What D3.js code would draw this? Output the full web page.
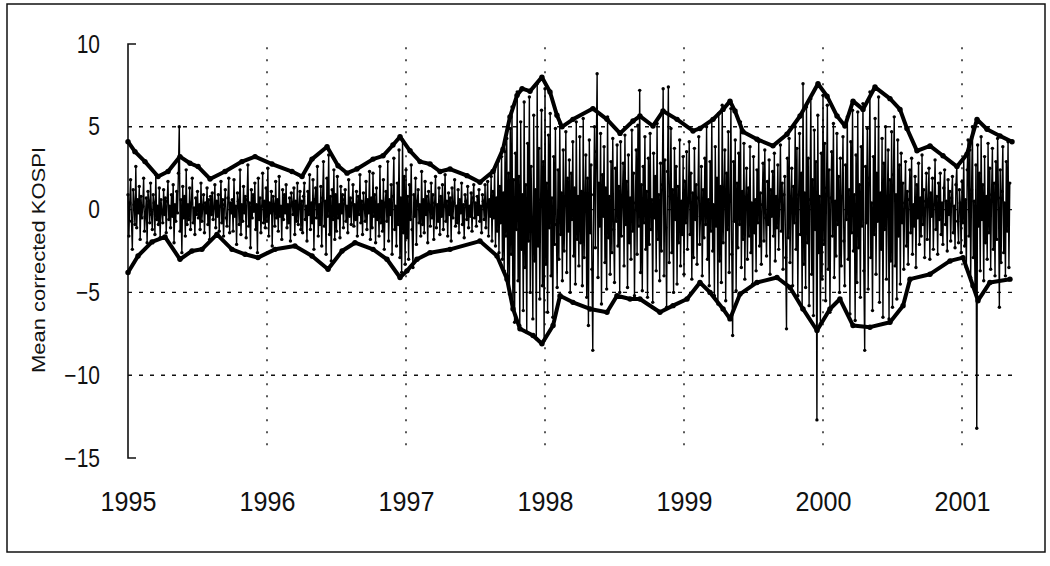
<!DOCTYPE html>
<html>
<head>
<meta charset="utf-8">
<script src="https://cdn.jsdelivr.net/npm/d3@7"></script>
<style>
  html, body { margin: 0; padding: 0; background: #fff; }
  svg { display: block; }
</style>
</head>
<body>
<svg id="chart" width="1050" height="566"></svg>
<script>
// tick labels
var yearTicks = [1995, 1996, 1997, 1998, 1999, 2000, 2001];
var yTicks = [10, 5, 0, -5, -10, -15];
var gridValues = [5, 0, -5, -10];

// mean corrected KOSPI returns (160 points a year from 1995.0)
var startYear = 1995;
var perYear = 160;
var ret1995 = [
    0.9, -1.6, 0.4, 1.8, -0.7, -2.4, 1.2, 0.3, -0.9, 2.6,
    -1.1, 0.6, -0.2, 1.4, -1.8, 0.8, -0.5, 0.2, 1.9, -1.3,
    -0.4, 0.7, -2.0, 1.1, 0.5, -0.8, 1.6, -0.3, -1.2, 0.9,
    0.4, -1.5, 2.1, -0.6, 0.2, -0.9, 1.3, -1.7, 0.6, -0.1,
    -0.8, 1.2, -0.3, 0.7, -1.4, 0.5, 1.7, -0.6, 0.2, -1.1,
    0.9, -0.4, 1.5, -2.0, 0.3, -0.7, 1.1, -0.2, 2.2, 5.0,
    -1.3, 0.6, -2.6, 1.4, -0.5, 0.8, -1.6, 2.4, -0.9, 0.3,
    -0.6, 1.3, -1.2, 0.4, 1.9, -0.8, 0.1, -1.5, 0.7, -0.3,
    1.1, -0.5, 0.3, -1.2, 1.6, -0.7, 0.2, 0.9, -1.4, 0.4,
    -0.2, 1.3, -0.9, 0.6, -1.8, 0.8, -0.3, 1.0, -0.6, 0.1,
    1.5, -1.1, 0.5, -0.4, 0.9, -1.3, 0.2, 1.7, -0.8, 0.6,
    -1.6, 0.3, 1.2, -0.5, -1.0, 0.7, 1.9, -1.4, 0.4, -0.2,
    0.6, -1.3, 1.8, -0.4, 0.2, -2.1, 1.0, 0.5, -0.9, 2.4,
    -1.5, 0.3, -0.7, 1.4, -0.2, 0.8, -1.7, 0.6, 2.7, -1.0,
    0.4, -2.3, 1.2, -0.5, 0.9, -0.1, 1.6, -1.2, 0.3, -2.6,
    1.9, -0.6, 0.7, -1.4, 0.2, 2.2, -0.8, 0.5, -1.1, 1.3
];
var ret1996 = [
    -0.7, 2.5, -1.6, 0.4, -0.2, 1.1, -2.2, 0.8, 0.3, -1.0,
    1.7, -0.5, 0.6, -1.3, 2.0, -0.4, 0.2, -1.8, 1.2, -0.6,
    0.9, -0.2, 1.5, -1.1, 0.3, -0.8, 0.7, -1.9, 1.0, 0.4,
    -0.3, 1.3, -1.5, 0.5, -0.7, 1.6, -0.9, 0.2, 1.1, -1.2,
    0.5, -1.4, 0.8, 1.6, -0.6, 0.2, -1.9, 1.1, -0.3, 2.1,
    -1.2, 0.4, -0.8, 1.8, -2.4, 0.6, 1.3, -0.5, 2.6, -1.6,
    0.3, -0.9, 1.4, -2.2, 0.7, 2.9, -1.0, 0.5, -2.7, 1.9,
    -0.4, 3.3, -1.5, 0.8, -3.1, 1.2, -0.6, 2.4, -1.8, 0.9,
    -1.3, 2.0, -0.5, 0.3, -1.7, 1.4, -0.2, 0.9, -1.1, 0.6,
    1.2, -0.7, 0.2, -1.4, 1.8, -0.4, 0.7, -0.9, 0.4, 1.5,
    -1.0, 0.3, -0.6, 1.1, -1.6, 0.8, -0.3, 2.1, -0.8, 0.5,
    -1.5, 1.0, 0.2, -0.7, 1.7, -1.2, 0.6, -0.2, 2.3, -1.8,
    0.7, -1.1, 2.2, -0.4, 0.9, -2.0, 1.3, -0.6, 0.3, -1.6,
    2.6, -0.8, 0.5, -1.3, 1.8, -2.4, 0.4, 1.1, -0.7, 2.9,
    -1.9, 0.6, -0.3, 1.5, -2.7, 0.8, 3.1, -1.2, 0.2, -2.2,
    1.6, -0.9, 3.6, -2.9, 0.7, -3.8, 4.2, -1.4, 2.0, -3.3
];
var ret1997 = [
    2.4, -1.7, 0.8, -3.0, 1.5, -0.6, 2.7, -1.2, -3.5, 0.9,
    -0.4, 1.9, -2.1, 0.5, 1.2, -0.8, 0.3, -1.6, 2.3, -0.9,
    0.6, -1.4, 1.7, -0.3, 0.8, -2.0, 1.1, 0.2, -1.0, 1.6,
    -0.5, 0.9, -1.8, 0.4, 2.0, -1.1, 0.3, -0.7, 1.3, -1.5,
    0.8, -0.4, 1.5, -1.2, 0.2, 2.1, -0.7, 0.5, -1.6, 1.0,
    -0.3, 0.7, -1.9, 1.3, -0.5, 0.4, 1.8, -1.0, 0.2, -0.8,
    1.2, -1.4, 0.6, -0.2, 1.6, -0.9, 0.3, -1.7, 0.9, 0.5,
    -0.6, 1.4, -1.1, 0.2, -0.4, 1.0, -1.3, 0.7, 1.5, -0.5,
    0.4, -1.0, 0.8, -0.3, 1.2, -0.7, 0.2, -1.4, 0.9, 0.5,
    -0.6, 1.5, -1.1, 0.3, 1.7, -1.6, 0.6, -0.4, 2.0, -1.9,
    1.1, -0.5, 2.4, -2.2, 0.7, -1.3, 2.9, -2.6, 1.4, -0.8,
    3.2, -3.0, 1.0, -3.7, 3.5, -1.6, 4.3, -4.0, 2.2, -5.1,
    4.9, -2.7, 6.2, -5.6, 1.8, -6.8, 3.4, -1.2, 7.1, -4.3,
    2.0, -7.0, 5.3, -2.4, 0.9, -6.1, 6.5, -3.5, 1.5, -7.4,
    4.0, -1.9, 6.8, -5.0, 2.6, -0.8, -6.6, 5.7, -3.1, 1.2,
    -7.8, 7.6, -2.2, 3.7, -5.4, 0.6, 6.0, -4.6, 2.9, -7.9
];
var ret1998 = [
    7.3, -3.3, 1.6, -6.2, 4.5, -1.1, 5.8, -4.0, 0.7, -6.5,
    3.2, -2.1, 4.9, -0.9, -4.7, 2.4, -3.0, 5.2, -1.5, 1.0,
    -4.3, 3.6, -2.5, 0.5, 4.7, -3.8, 1.9, -1.3, 3.0, -5.0,
    2.2, -0.6, 4.1, -2.8, 1.3, -4.5, 5.3, -1.8, 0.8, -3.4,
    4.4, -2.0, 1.1, -4.6, 5.5, -2.9, 0.6, 3.3, -5.3, 1.9,
    -7.0, 4.2, -1.4, 2.7, -3.6, -8.5, 0.9, 5.0, -2.3, 3.5,
    8.2, -4.1, 1.6, -1.0, 4.6, -5.7, 2.1, -0.4, 3.8, -3.2,
    1.3, -4.8, 5.6, -1.7, 0.8, -3.9, 2.9, -2.6, 4.3, -1.2,
    -4.4, 2.5, -0.7, 3.9, -2.2, 1.4, -5.0, 4.1, -1.6, 0.5,
    2.8, -3.4, 4.5, -0.9, 1.7, -4.7, 3.3, -2.0, 0.7, -3.0,
    4.8, -1.3, 2.2, -5.2, 0.4, 3.6, -2.7, 5.1, -1.0, 7.2,
    -3.8, 1.5, -4.9, 2.6, -0.8, 4.4, -2.4, 1.1, -5.3, 3.1,
    -2.1, 4.6, -1.2, 0.6, -5.6, 3.4, -0.5, 2.0, -3.7, 5.2,
    -1.8, 0.9, -4.3, 2.8, -2.5, 1.5, 7.3, -4.0, 3.0, -1.1,
    -5.9, 2.3, 7.4, -3.2, 0.8, 4.9, -2.6, 1.2, -5.0, 3.7,
    -0.6, 2.6, -4.5, 1.4, -2.0, 4.2, -3.4, 0.5, -1.5, 3.2
];
var ret1999 = [
    -3.9, 1.7, -0.8, 3.5, -2.4, 0.4, 4.1, -1.5, 2.2, -4.2,
    1.0, -2.9, 3.7, -0.6, 1.5, -3.3, 0.7, 4.4, -2.1, -0.4,
    2.6, -4.0, 1.2, -1.7, 3.1, -0.9, 5.0, -3.0, 0.6, -4.6,
    2.9, -1.3, 5.4, -2.5, 0.3, -5.2, 3.8, -1.0, 1.9, -5.7,
    5.8, -3.1, 1.4, -4.4, 6.3, -2.0, 0.8, 3.6, -5.5, 2.2,
    -1.2, 4.7, -3.8, 0.5, 6.1, -2.7, -7.6, 2.9, -0.7, 4.2,
    -4.9, 1.6, -2.3, 3.4, -0.9, 5.3, -3.5, 1.1, -1.8, 4.0,
    -4.2, 0.7, 2.5, -3.0, 1.3, -1.6, 3.8, -2.6, 0.4, -4.5,
    3.2, -1.4, 0.6, -3.7, 2.4, -0.8, 4.1, -2.2, 1.0, -3.3,
    0.3, 2.8, -1.9, 3.6, -0.5, -2.8, 1.7, -0.9, 3.0, -3.9,
    1.2, -0.4, 2.3, -1.6, 3.4, -3.1, 0.8, -1.1, 2.7, -2.4,
    0.5, 3.9, -1.3, 1.6, -3.6, 0.9, 2.0, -2.9, -7.2, 3.1,
    -1.7, 4.3, -3.2, 0.7, 2.5, -4.6, 1.4, -0.8, 5.0, -2.4,
    3.7, -5.2, 0.9, 4.6, -1.5, 2.2, -6.0, 7.6, -3.3, 1.0,
    -4.7, 6.2, -2.0, 3.1, -5.8, 0.6, 6.7, -3.9, 1.8, -6.4,
    4.8, -1.2, 2.9, -12.7, 5.7, -2.6, 0.8, -6.9, 3.4, -4.2
];
var ret2000 = [
    6.9, -2.1, 4.0, -5.5, 1.3, 6.3, -3.6, 2.4, -6.2, 0.7,
    3.5, -1.6, 5.2, -4.1, 0.5, -2.8, 4.6, -0.9, 2.0, -5.0,
    3.1, -3.4, 0.8, 4.4, -1.9, -4.6, 2.7, -0.6, 5.6, -3.0,
    1.2, -6.3, 4.1, -1.4, 6.0, -2.5, 0.9, -6.7, 3.3, -4.4,
    5.9, -2.3, 1.5, -5.3, 3.8, -1.0, 6.4, -3.7, -8.5, 2.6,
    -0.8, 4.9, -4.8, 1.9, 7.1, -2.9, 0.4, -6.1, 3.2, -1.5,
    5.5, -3.9, 2.2, -0.7, 6.8, -5.6, 1.0, -2.4, 4.3, -6.5,
    2.8, -1.2, 5.0, -4.2, 0.6, 3.6, -6.6, 1.8, -3.1, 4.7,
    -5.9, 2.1, 5.6, -3.4, 0.9, -5.4, 4.2, -1.6, 2.7, -4.5,
    3.4, -0.8, 1.6, -3.6, 0.4, 2.9, -2.2, 1.1, -3.3, 0.6,
    2.4, -1.4, 3.1, -2.7, 0.3, -1.0, 2.0, -3.5, 1.5, -0.5,
    2.8, -2.1, 0.7, -1.6, 3.3, -0.9, 1.2, -2.9, 0.5, 2.2,
    -1.8, 0.6, 2.5, -3.0, 1.0, -0.4, 1.9, -2.4, 0.3, 3.0,
    -1.2, 0.8, -2.7, 1.6, -0.6, 2.2, -1.5, 0.4, -2.1, 1.3,
    2.4, -0.9, 0.5, -2.5, 1.8, -0.3, 1.1, -1.9, 0.7, 2.0,
    -1.4, 0.2, -2.3, 1.5, 2.6, -0.7, -2.0, 1.2, 0.4, -2.6
];
var ret2001 = [
    1.7, -0.8, 3.1, -2.2, 0.6, -3.5, 2.4, 4.2, -1.6, 3.6,
    -4.1, 1.2, 5.0, -2.9, 0.5, -4.8, 2.7, -13.2, 3.9, -1.0,
    2.2, -3.7, 4.4, -0.6, 1.5, -4.3, 3.2, -2.0, 0.8, -3.0,
    4.0, -1.4, 2.5, -3.6, 0.9, 3.7, -2.4, 1.6, -4.0, 2.9,
    -1.8, 4.3, 0.7, -5.9, 2.4, -3.2, 1.1, 3.8, -2.6, 0.4,
    -4.0, 2.9, -1.3, 4.1, -3.5, 1.6
];
var returns = [].concat(ret1995, ret1996, ret1997, ret1998, ret1999, ret2000, ret2001);

// upper and lower volatility bands: [year, value]
var upperBand = [
    [1995.000, 4.1], [1995.050, 3.5], [1995.122, 2.9], [1995.216, 2.0], [1995.288, 2.3], [1995.374, 3.2],
    [1995.446, 2.8], [1995.504, 2.6], [1995.590, 1.85], [1995.698, 2.3], [1995.820, 2.9], [1995.914, 3.2],
    [1996.036, 2.75], [1996.180, 2.3], [1996.252, 2.0], [1996.324, 3.05], [1996.432, 3.8], [1996.511, 2.65],
    [1996.576, 2.2], [1996.647, 2.45], [1996.763, 3.05], [1996.835, 3.25], [1996.906, 3.9], [1996.957, 4.4],
    [1997.029, 3.55], [1997.101, 2.9], [1997.173, 2.75], [1997.245, 2.3], [1997.317, 2.45], [1997.439, 2.05],
    [1997.532, 1.65], [1997.626, 2.3], [1997.698, 3.65], [1997.748, 5.6], [1997.799, 6.9], [1997.835, 7.3],
    [1997.892, 7.15], [1997.978, 8.0], [1998.036, 7.1], [1998.086, 5.7], [1998.122, 5.0], [1998.201, 5.45],
    [1998.345, 6.1], [1998.446, 5.45], [1998.540, 4.6], [1998.633, 5.35], [1998.683, 5.65], [1998.777, 5.05],
    [1998.849, 5.95], [1998.950, 5.45], [1999.065, 4.75], [1999.115, 4.9], [1999.209, 5.45], [1999.281, 6.05],
    [1999.331, 6.55], [1999.367, 5.95], [1999.424, 4.7], [1999.525, 4.25], [1999.640, 3.85], [1999.741, 4.55],
    [1999.835, 5.65], [1999.964, 7.6], [2000.029, 6.85], [2000.101, 5.65], [2000.158, 5.05], [2000.216, 6.55],
    [2000.288, 6.05], [2000.374, 7.4], [2000.482, 6.7], [2000.554, 6.05], [2000.604, 4.9], [2000.676, 3.55],
    [2000.770, 3.85], [2000.863, 3.25], [2000.964, 2.6], [2001.036, 3.35], [2001.108, 5.45], [2001.180, 4.85],
    [2001.273, 4.45], [2001.360, 4.1]
];
var lowerBand = [
    [1995.000, -3.8], [1995.072, -2.8], [1995.173, -1.95], [1995.266, -1.65], [1995.374, -3.0], [1995.460, -2.5],
    [1995.532, -2.4], [1995.640, -1.5], [1995.748, -2.4], [1995.842, -2.7], [1995.935, -2.9], [1996.058, -2.4],
    [1996.201, -2.2], [1996.324, -2.8], [1996.439, -3.6], [1996.540, -2.5], [1996.633, -2.0], [1996.763, -2.4],
    [1996.863, -3.0], [1996.957, -4.1], [1997.007, -3.7], [1997.079, -3.0], [1997.173, -2.6], [1997.317, -2.4],
    [1997.532, -1.9], [1997.655, -2.8], [1997.727, -4.2], [1997.770, -6.0], [1997.820, -7.2], [1997.914, -7.6],
    [1997.978, -8.1], [1998.058, -7.0], [1998.108, -5.2], [1998.201, -5.6], [1998.324, -6.0], [1998.446, -6.2],
    [1998.518, -5.2], [1998.612, -5.4], [1998.683, -5.4], [1998.827, -6.2], [1998.921, -5.8], [1999.022, -5.4],
    [1999.115, -4.4], [1999.187, -5.0], [1999.281, -6.0], [1999.331, -6.6], [1999.403, -5.1], [1999.525, -4.4],
    [1999.669, -4.1], [1999.763, -4.7], [1999.856, -6.0], [1999.957, -7.3], [2000.050, -6.0], [2000.122, -5.4],
    [2000.216, -7.0], [2000.338, -7.1], [2000.482, -6.8], [2000.576, -5.8], [2000.626, -4.2], [2000.770, -3.9],
    [2000.914, -3.1], [2001.007, -2.9], [2001.079, -4.6], [2001.115, -5.5], [2001.201, -4.4], [2001.345, -4.2]
];

var svg = d3.select('#chart');

var x = d3.scaleLinear().domain([1995, 2001]).range([128, 962]);
var y = d3.scaleLinear().domain([-15, 10]).range([458, 44]);

var lastYear = startYear + (returns.length - 1) / perYear;

// outer frame
svg.append('rect')
    .attr('x', 7)
    .attr('y', 4)
    .attr('width', 1038)
    .attr('height', 548)
    .attr('fill', 'none')
    .attr('stroke', '#111')
    .attr('stroke-width', 1.5);

// grid
svg.append('g')
    .selectAll('line')
    .data(gridValues)
    .enter()
    .append('line')
    .attr('x1', x(1995))
    .attr('x2', x(lastYear) + 3)
    .attr('y1', function (d) { return y(d); })
    .attr('y2', function (d) { return y(d); })
    .attr('stroke', '#111')
    .attr('stroke-width', 1.4)
    .attr('stroke-dasharray', '4,7');

svg.append('g')
    .selectAll('line')
    .data(yearTicks.slice(1))
    .enter()
    .append('line')
    .attr('x1', function (d) { return x(d); })
    .attr('x2', function (d) { return x(d); })
    .attr('y1', y(9.8))
    .attr('y2', y(-14.7))
    .attr('stroke', '#111')
    .attr('stroke-width', 1.4)
    .attr('stroke-dasharray', '2,10');

// y axis line with end ticks
svg.append('path')
    .attr('d', 'M' + (x(1995) + 8) + ',' + y(10) + 'H' + x(1995) + 'V' + y(-15) + 'H' + (x(1995) + 8))
    .attr('fill', 'none')
    .attr('stroke', '#111')
    .attr('stroke-width', 1.6);

var tickFont = '"Liberation Sans", Arial, sans-serif';

var yAxis = svg.append('g')
    .attr('transform', 'translate(' + x(1995) + ',0)')
    .call(d3.axisLeft(y).tickValues(yTicks).tickSize(0).tickPadding(28)
        .tickFormat(function (d) { return d < 0 ? '\u2212' + Math.abs(d) : d; }));
yAxis.select('.domain').remove();
yAxis.selectAll('text')
    .attr('font-family', tickFont)
    .attr('font-size', 25)
    .attr('fill', '#111')
    .each(function () {
        // the scanned digits are narrower than Liberation Sans
        var w = this.getComputedTextLength();
        d3.select(this).attr('textLength', w * 0.84).attr('lengthAdjust', 'spacingAndGlyphs');
    });

var xAxis = svg.append('g')
    .attr('transform', 'translate(0,' + 492 + ')')
    .call(d3.axisBottom(x).tickValues(yearTicks).tickSize(0).tickPadding(0)
        .tickFormat(d3.format('d')));
xAxis.select('.domain').remove();
xAxis.selectAll('text')
    .attr('font-family', tickFont)
    .attr('font-size', 27)
    .attr('fill', '#111')
    .each(function () {
        var w = this.getComputedTextLength();
        d3.select(this).attr('textLength', w * 0.93).attr('lengthAdjust', 'spacingAndGlyphs');
    });

// y title
svg.append('text')
    .attr('transform', 'translate(45,260) rotate(-90)')
    .attr('text-anchor', 'middle')
    .attr('font-family', '"Liberation Sans", Arial, sans-serif')
    .attr('font-size', 19)
    .attr('textLength', 226)
    .attr('lengthAdjust', 'spacingAndGlyphs')
    .attr('fill', '#111')
    .text('Mean corrected KOSPI');

// returns series
var line = d3.line()
    .x(function (d, i) { return x(startYear + i / perYear); })
    .y(function (d) { return y(d); });

svg.append('path')
    .datum(returns)
    .attr('d', line)
    .attr('fill', 'none')
    .attr('stroke', '#000')
    .attr('stroke-width', 1.4);

svg.append('g')
    .selectAll('circle')
    .data(returns)
    .enter()
    .append('circle')
    .attr('cx', function (d, i) { return x(startYear + i / perYear); })
    .attr('cy', function (d) { return y(d); })
    .attr('r', 1.7)
    .attr('fill', '#000');

// bands
var bandLine = d3.line()
    .x(function (d) { return x(d[0]); })
    .y(function (d) { return y(d[1]); });

[upperBand, lowerBand].forEach(function (band) {
    svg.append('path')
        .datum(band)
        .attr('d', bandLine)
        .attr('fill', 'none')
        .attr('stroke', '#000')
        .attr('stroke-width', 4)
        .attr('stroke-linejoin', 'round');

    svg.append('g')
        .selectAll('circle')
        .data(band)
        .enter()
        .append('circle')
        .attr('cx', function (d) { return x(d[0]); })
        .attr('cy', function (d) { return y(d[1]); })
        .attr('r', 2.7)
        .attr('fill', '#000');
});
</script>
</body>
</html>
